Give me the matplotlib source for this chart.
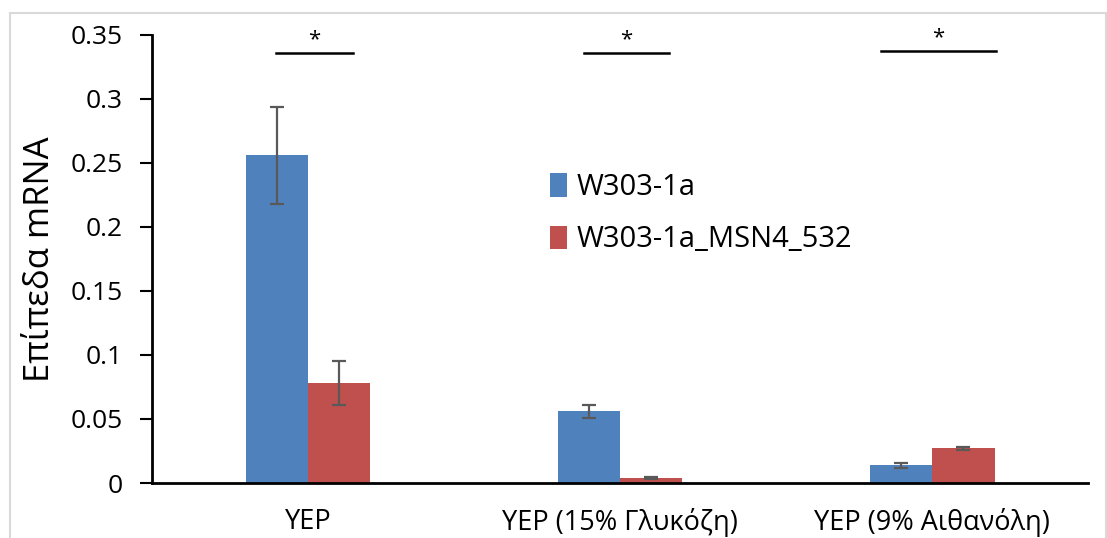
import numpy as np
import matplotlib
matplotlib.use('Agg')
import matplotlib.pyplot as plt
from matplotlib.patches import Rectangle

plt.rcParams['font.family'] = ['Open Sans', 'DejaVu Sans']

#### DATA
categories = ['YEP', 'YEP (15% Γλυκόζη)', 'YEP (9% Αιθανόλη)']
series_names = ['W303-1a', 'W303-1a_MSN4_532']
wt_vals = [0.256, 0.056, 0.014]
wt_err = [0.038, 0.005, 0.002]
mut_vals = [0.078, 0.004, 0.027]
mut_err = [0.017, 0.001, 0.0015]
colors = ['#4F81BD', '#C0504D']

#### FIGURE
fig = plt.figure(figsize=(11.07, 5.38), dpi=100)
ax = fig.add_axes([0.1373, 0.1022, 0.8457, 0.833])

# light grey frame around the chart area
fig.patches.append(Rectangle((0.009, -0.01), 0.99, 0.985, transform=fig.transFigure,
                             fill=False, edgecolor='#d9d9d9', linewidth=1.5))

x = np.arange(len(categories))
w = 0.2
ekw = dict(ecolor='#595959', elinewidth=1.6, capsize=5, capthick=1.6)
ax.bar(x - w / 2, wt_vals, w, yerr=wt_err, color=colors[0], label=series_names[0], error_kw=ekw)
ax.bar(x + w / 2, mut_vals, w, yerr=mut_err, color=colors[1], label=series_names[1], error_kw=ekw)

# significance marks
sig_y = [0.336, 0.336, 0.3375]
sig_half = [0.123, 0.137, 0.185]
for xi, yi, hw in zip(x, sig_y, sig_half):
    ax.plot([xi - hw + 0.02, xi + hw + 0.02], [yi, yi], color='black', lw=1.8, clip_on=False)
    ax.text(xi + 0.02, yi + 0.002, '*', ha='center', va='bottom', fontsize=16)

ax.set_xlim(-0.5, 2.5)
ax.set_ylim(0, 0.35)
ax.set_yticks(np.arange(0, 0.351, 0.05))
ax.set_yticklabels(['0', '0.05', '0.1', '0.15', '0.2', '0.25', '0.3', '0.35'])
ax.set_xticks(x)
ax.set_xticklabels(categories)
ax.tick_params(axis='y', labelsize=19, length=9, width=1.5, direction='out', pad=12)
ax.tick_params(axis='x', labelsize=19.5, length=0, pad=18)
ax.set_ylabel('Επίπεδα mRNA', fontsize=25, labelpad=10)

for s in ['top', 'right']:
    ax.spines[s].set_visible(False)
for s in ['left', 'bottom']:
    ax.spines[s].set_linewidth(2)

ax.legend(loc='upper left', bbox_to_anchor=(0.397, 0.75), frameon=False, fontsize=21,
          handlelength=0.6, handleheight=0.85, handletextpad=0.3, labelspacing=0.8)

plt.savefig('out.png', dpi=100)
